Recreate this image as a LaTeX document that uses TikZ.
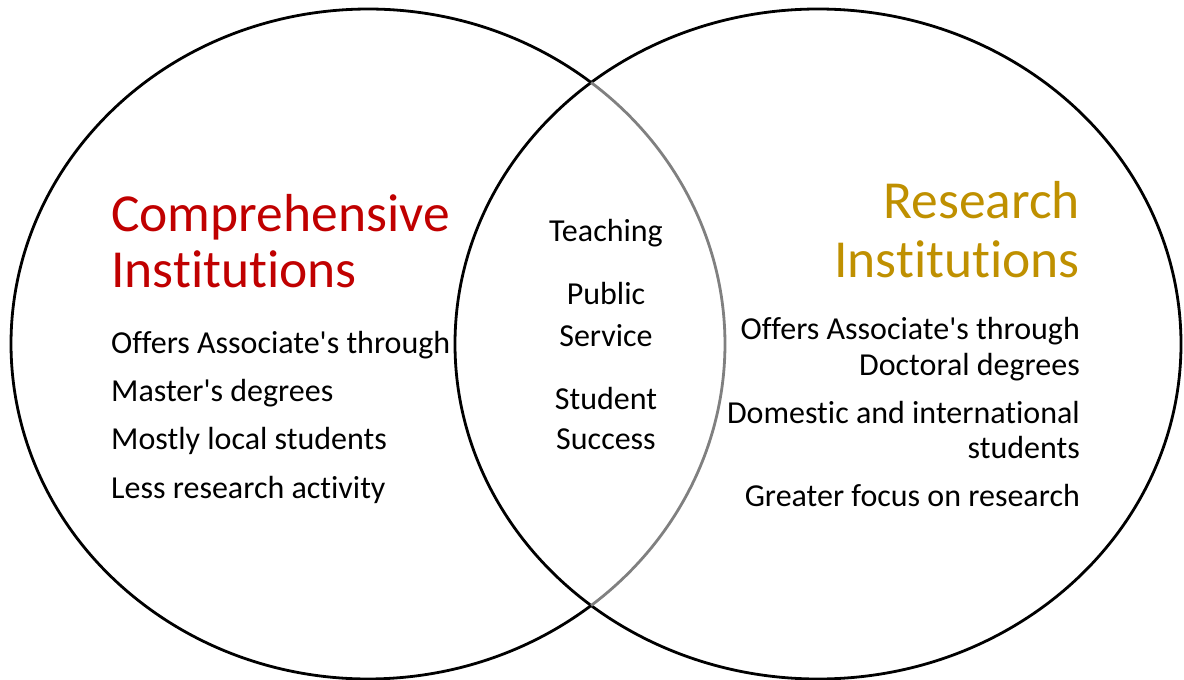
\documentclass[tikz,border=0pt]{standalone}
\usepackage{fontspec}
\usepackage{xcolor}
\usetikzlibrary{positioning}
\newfontfamily\carlito{Carlito}[Ligatures=NoCommon]
\definecolor{comprred}{RGB}{192,0,0}
\definecolor{resgold}{RGB}{191,144,0}
\tikzset{
	ring/.style={line width=2.8pt},
	title/.style={font=\carlito\fontsize{53.5}{60}\selectfont, inner sep=0pt},
	item/.style={font=\carlito\fontsize{32}{36}\selectfont, inner sep=0pt}
}
\begin{document}
\begin{tikzpicture}[x=1pt,y=-1pt]
	\useasboundingbox (0,0) rectangle (1184,680);
	\coordinate (L) at (368,344);
	\coordinate (R) at (818,344);
	\coordinate (T) at (591.1,82.5);
	%
	\draw[ring] (R) ellipse [x radius=363pt, y radius=335pt];
	\draw[ring] (T) arc[start angle=51.32, end angle=308.68, x radius=357pt, y radius=335pt];
	\draw[ring, gray] (T) arc[start angle=51.32, end angle=-51.32, x radius=357pt, y radius=335pt];
	%
	\node[title, text=comprred, anchor=base west] (ctitle1) at (111,231) {Comprehensive};
	\node[title, text=comprred, anchor=base west] (ctitle2) at (111,287) {Institutions};
	\node[item, anchor=base west] (c1) at (111,353) {Offers Associate's through};
	\node[item, anchor=base west] (c2) at (111,401) {Master's degrees};
	\node[item, anchor=base west] (c3) at (111,449) {Mostly local students};
	\node[item, anchor=base west] (c4) at (111,498) {Less research activity};
	%
	\node[item, anchor=base] (m1) at (606,241) {Teaching};
	\node[item, anchor=base] (m2) at (606,304) {Public};
	\node[item, anchor=base] (m3) at (606,346) {Service};
	\node[item, anchor=base] (m4) at (606,409) {Student};
	\node[item, anchor=base] (m5) at (606,449) {Success};
	%
	\node[title, text=resgold, anchor=base east] (rtitle1) at (1080,218) {Research};
	\node[title, text=resgold, anchor=base east] (rtitle2) at (1080,277) {Institutions};
	\node[item, anchor=base east] (r1) at (1080,339) {Offers Associate's through};
	\node[item, anchor=base east] (r2) at (1080,375) {Doctoral degrees};
	\node[item, anchor=base east] (r3) at (1080,423) {Domestic and international};
	\node[item, anchor=base east] (r4) at (1080,458) {students};
	\node[item, anchor=base east] (r5) at (1080,506) {Greater focus on research};
\end{tikzpicture}
\end{document}
